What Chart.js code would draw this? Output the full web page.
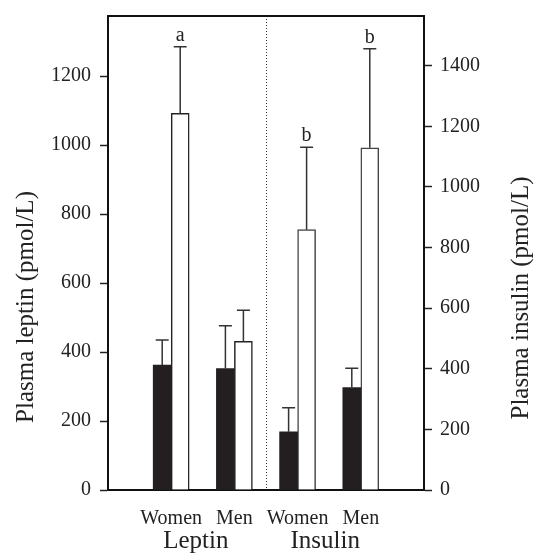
<!DOCTYPE html>
<html>
<head>
<meta charset="utf-8">
<script src="https://cdn.jsdelivr.net/npm/chart.js@4.4.0/dist/chart.umd.min.js"></script>
<style>
  html, body { margin: 0; padding: 0; background: #fff; }
</style>
</head>
<body>
<canvas id="chart" width="543" height="555"></canvas>
<script>
// categories (empty slots at both ends keep the bars off the frame)
const categories = ['', 'Women', 'Men', 'Women', 'Men', ''];
const groupLabels = ['Leptin', 'Insulin'];

// leptin (left axis), pmol/L
const leptinBlack = [null, 362, 352, null, null, null];
const leptinBlackErr = [null, 73, 124, null, null, null];
const leptinWhite = [null, 1092, 431, null, null, null];
const leptinWhiteErr = [null, 193, 90, null, null, null];

// insulin (right axis), pmol/L
const insulinBlack = [null, null, null, 192, 338, null];
const insulinBlackErr = [null, null, null, 79, 64, null];
const insulinWhite = [null, null, null, 859, 1129, null];
const insulinWhiteErr = [null, null, null, 272, 327, null];

// significance letters over the white bars
const whiteLetters = ['', 'a', '', 'b', 'b', ''];

const leftTicks = [0, 200, 400, 600, 800, 1000, 1200];
const rightTicks = [0, 200, 400, 600, 800, 1000, 1200, 1400];

const serif = '"Liberation Serif", "DejaVu Serif", serif';
const ink = '#222';

// error bars, letters, divider, frame top and axis titles
const extras = {
  id: 'extras',
  afterDatasetsDraw(chart) {
    const ctx = chart.ctx;
    const area = chart.chartArea;
    const x = chart.scales.x;

    // dotted divider between leptin and insulin
    const midX = (x.getPixelForValue(2) + x.getPixelForValue(3)) / 2;
    ctx.save();
    ctx.strokeStyle = '#333';
    ctx.lineWidth = 1;
    ctx.setLineDash([1, 2]);
    ctx.beginPath();
    ctx.moveTo(Math.round(midX) + 0.5, area.top);
    ctx.lineTo(Math.round(midX) + 0.5, area.bottom);
    ctx.stroke();
    ctx.restore();

    // upper error bars
    chart.data.datasets.forEach((ds, i) => {
      const meta = chart.getDatasetMeta(i);
      const yScale = chart.scales[ds.yAxisID];
      meta.data.forEach((bar, j) => {
        const v = ds.data[j];
        if (v === null) return;
        const top = yScale.getPixelForValue(v + ds.err[j]);
        ctx.save();
        ctx.strokeStyle = '#333';
        ctx.lineWidth = 1.5;
        ctx.beginPath();
        ctx.moveTo(bar.x, bar.y);
        ctx.lineTo(bar.x, top);
        ctx.moveTo(bar.x - 6.5, top);
        ctx.lineTo(bar.x + 6.5, top);
        ctx.stroke();
        if (ds.letters && ds.letters[j]) {
          ctx.fillStyle = ink;
          ctx.font = '20px ' + serif;
          ctx.textAlign = 'center';
          ctx.textBaseline = 'alphabetic';
          ctx.fillText(ds.letters[j], bar.x, top - 6);
        }
        ctx.restore();
      });
    });

    ctx.save();
    // top edge of the frame
    ctx.strokeStyle = '#111';
    ctx.lineWidth = 2;
    ctx.beginPath();
    ctx.moveTo(area.left - 1, area.top);
    ctx.lineTo(area.right + 1, area.top);
    ctx.stroke();

    // group labels under the categories
    ctx.fillStyle = ink;
    ctx.font = '25px ' + serif;
    ctx.textAlign = 'center';
    ctx.textBaseline = 'alphabetic';
    const leptinX = (x.getPixelForValue(1) + x.getPixelForValue(2)) / 2 - 7;
    const insulinX = (x.getPixelForValue(3) + x.getPixelForValue(4)) / 2 - 4;
    ctx.fillText(groupLabels[0], leptinX, 548);
    ctx.fillText(groupLabels[1], insulinX, 548);

    // axis titles, both reading bottom to top
    ctx.font = '25px ' + serif;
    ctx.textBaseline = 'middle';
    ctx.translate(26, 307);
    ctx.rotate(-Math.PI / 2);
    ctx.fillText('Plasma leptin (pmol/L)', 0, 0);
    ctx.restore();

    ctx.save();
    ctx.fillStyle = ink;
    ctx.font = '25px ' + serif;
    ctx.textAlign = 'center';
    ctx.textBaseline = 'middle';
    ctx.translate(521, 298);
    ctx.rotate(-Math.PI / 2);
    ctx.fillText('Plasma insulin (pmol/L)', 0, 0);
    ctx.restore();
  }
};

const barBlack = '#231f20';
const plainTick = v => String(v);

new Chart(document.getElementById('chart'), {
  type: 'bar',
  data: {
    labels: categories,
    datasets: [
      { data: leptinBlack, err: leptinBlackErr, yAxisID: 'yL', stack: 'black',
        backgroundColor: barBlack, borderColor: barBlack, borderWidth: 0 },
      { data: leptinWhite, err: leptinWhiteErr, letters: whiteLetters, yAxisID: 'yL', stack: 'white',
        backgroundColor: '#fff', borderColor: ink, borderWidth: 1.5 },
      { data: insulinBlack, err: insulinBlackErr, yAxisID: 'yR', stack: 'black',
        backgroundColor: barBlack, borderColor: barBlack, borderWidth: 0 },
      { data: insulinWhite, err: insulinWhiteErr, letters: whiteLetters, yAxisID: 'yR', stack: 'white',
        backgroundColor: '#fff', borderColor: '#444', borderWidth: 1.5 }
    ]
  },
  options: {
    responsive: false,
    animation: false,
    layout: { padding: { top: 16, left: 0, right: 0, bottom: 0 } },
    plugins: { legend: { display: false }, tooltip: { enabled: false } },
    datasets: { bar: { barThickness: 18 } },
    scales: {
      x: {
        type: 'category',
        offset: false,
        grid: { display: false },
        border: { color: '#111', width: 2 },
        ticks: { autoSkip: false, maxRotation: 0, padding: 9, color: ink, font: { family: serif, size: 20 } },
        afterFit: s => { s.height = 65; s.paddingLeft = 0; s.paddingRight = 0; }
      },
      yL: {
        position: 'left',
        min: 0,
        max: 1374,
        afterBuildTicks: s => { s.ticks = leftTicks.map(v => ({ value: v })); },
        grid: { drawOnChartArea: false, tickLength: 8, tickColor: ink, tickWidth: 1.5 },
        border: { color: '#111', width: 2 },
        ticks: { padding: 9, color: ink, font: { family: serif, size: 20 }, callback: plainTick },
        afterFit: s => { s.width = 108; s.paddingTop = 0; s.paddingBottom = 0; }
      },
      yR: {
        position: 'right',
        min: 0,
        max: 1564,
        afterBuildTicks: s => { s.ticks = rightTicks.map(v => ({ value: v })); },
        grid: { drawOnChartArea: false, tickLength: 8, tickColor: ink, tickWidth: 1.5 },
        border: { color: '#111', width: 2 },
        ticks: { padding: 8, color: ink, font: { family: serif, size: 20 }, callback: plainTick },
        afterFit: s => { s.width = 119; s.paddingTop = 0; s.paddingBottom = 0; }
      }
    }
  },
  plugins: [extras]
});
</script>
</body>
</html>
